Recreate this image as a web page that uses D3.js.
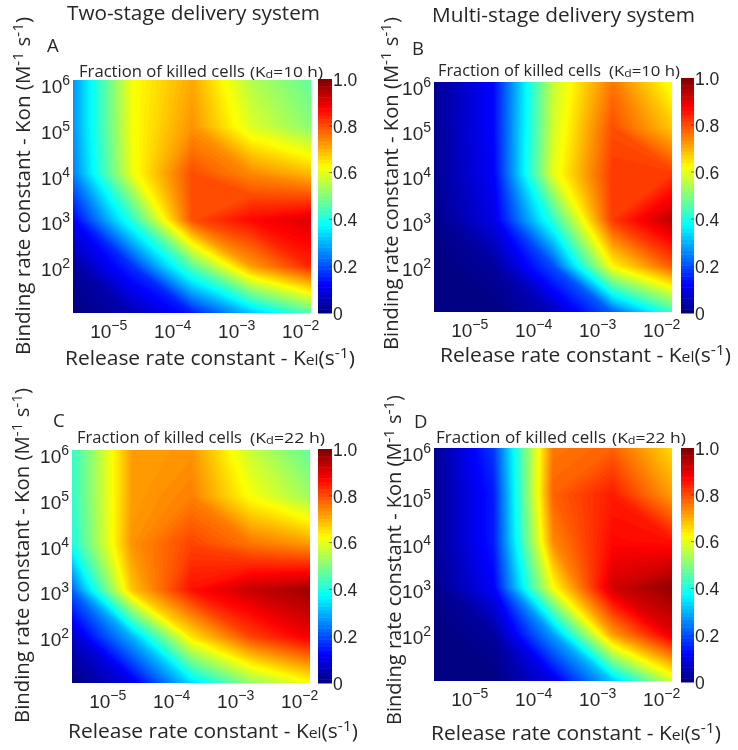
<!DOCTYPE html>
<html><head><meta charset="utf-8">
<script src="https://cdn.jsdelivr.net/npm/d3@7"></script>
<style>
html,body{margin:0;padding:0;background:#fff}
svg{display:block;font-family:"Open Sans",sans-serif;filter:blur(0.45px)}
text{fill:#262626}
</style></head><body>
<svg id="c" width="738" height="750"></svg>
<script>
// Grid of the simulated parameter space (log10 of the rate constants)
const kelExp = [-5.55, -4.62, -3.69, -2.76, -1.83];
const konExp = [6.15, 5.13, 4.11, 3.09, 2.07, 1.05];
const kelTicks = [1e-5, 1e-4, 1e-3, 1e-2];
const konTicks = [1e2, 1e3, 1e4, 1e5, 1e6];
const barTicks = [0, 0.2, 0.4, 0.6, 0.8, 1];

// Fraction of killed cells: rows follow konExp, columns follow kelExp
const killedA = [
  [.27,.62,.71,.55,.47],
  [.27,.62,.73,.59,.51],
  [.25,.61,.80,.74,.69],
  [.12,.42,.80,.87,.91],
  [.03,.17,.46,.72,.84],
  [.00,.05,.15,.32,.46]];
const killedB = [
  [.02,.13,.57,.76,.61],
  [.02,.13,.58,.80,.68],
  [.02,.12,.60,.82,.82],
  [.01,.10,.42,.82,.94],
  [.00,.03,.20,.63,.79],
  [.00,.00,.06,.22,.43]];
const killedC = [
  [.42,.72,.73,.57,.47],
  [.42,.72,.75,.62,.53],
  [.40,.73,.81,.76,.72],
  [.22,.68,.86,.93,.97],
  [.07,.30,.65,.81,.89],
  [.00,.10,.34,.52,.62]];
const killedD = [
  [.02,.18,.76,.78,.66],
  [.02,.15,.78,.85,.72],
  [.02,.15,.74,.87,.86],
  [.01,.12,.62,.92,.98],
  [.00,.03,.28,.72,.90],
  [.00,.00,.10,.32,.58]];

const jet = v => {
  const c = t => Math.round(255 * Math.max(0, Math.min(1, 1.5 - Math.abs(4 * v - t))));
  return `rgb(${c(3)},${c(2)},${c(1)})`;
};

const panels = [
 {letter:"A", data:killedA, kd:"10", l:73, r:311, t:80, b:313, cbL:318, cbR:332, cbT:79, cbB:313, lx:47, ly:52,
  ttl:[79,77,166], par:[250,77,73], xl:[65,365,290], yl:[23,355,338]},
 {letter:"B", data:killedB, kd:"10", l:434, r:672, t:82, b:312, cbL:681, cbR:694, cbT:78, cbB:313, lx:412, ly:55,
  ttl:[438,76,163], par:[609,76,71], xl:[440,362,291], yl:[391,350,333]},
 {letter:"C", data:killedC, kd:"22", l:72, r:310, t:450, b:683, cbL:318, cbR:332, cbT:449, cbB:683, lx:53, ly:427,
  ttl:[77,443,165], par:[250,443,75], xl:[68,738,290], yl:[22,723,335]},
 {letter:"D", data:killedD, kd:"22", l:434, r:672, t:448, b:681, cbL:681, cbR:694, cbT:448, cbB:682, lx:414, ly:428,
  ttl:[436,443,170], par:[612,443,74], xl:[431,740,290], yl:[394,725,330]}
];
const heads = [["Two-stage delivery system",67,20,253],["Multi-stage delivery system",432,22,263]];

const svg = d3.select("#c");
const SZ = 19;
heads.forEach(h => svg.append("text").attr("x",h[1]).attr("y",h[2]).attr("font-size",20)
  .attr("textLength",h[3]).attr("lengthAdjust","spacingAndGlyphs").text(h[0]));

const nLevels = 128;
const levels = d3.range(0, nLevels).map(i => i / nLevels);

function sup(sel, s, size, rise){
  sel.append("tspan").attr("dy",-rise).attr("font-size",size).text(s);
  return sel;
}

panels.forEach((p,pi) => {
  const g = svg.append("g");
  const x = d3.scaleLog().domain([10**kelExp[0],10**kelExp[4]]).range([p.l,p.r]);
  const y = d3.scaleLog().domain([10**konExp[5],10**konExp[0]]).range([p.b,p.t]);
  const nx = kelExp.length, ny = konExp.length;
  const flat = p.data.flat();
  const clampI = (v,n)=>Math.max(0,Math.min(n-1,v-0.5));
  const lerp = (a,i)=>{const k=Math.min(a.length-2,Math.floor(i));return a[k]+(a[k+1]-a[k])*(i-k);};
  const proj = d3.geoTransform({point(px,py){
    this.stream.point(x(10**lerp(kelExp,clampI(px,nx))), y(10**lerp(konExp,clampI(py,ny))));
  }});
  const path = d3.geoPath(proj);
  const clip = "clip"+pi;
  g.append("clipPath").attr("id",clip).append("rect")
    .attr("x",p.l).attr("y",p.t).attr("width",p.r-p.l).attr("height",p.b-p.t);
  const field = g.append("g").attr("clip-path",`url(#${clip})`);
  field.append("rect").attr("x",p.l).attr("y",p.t).attr("width",p.r-p.l).attr("height",p.b-p.t).attr("fill",jet(0));
  field.selectAll("path").data(d3.contours().size([nx,ny]).thresholds(levels)(flat)).join("path")
    .attr("d",path).attr("fill",d=>jet(d.value+0.5/nLevels));

  // x axis
  const ax = g.append("g").attr("transform",`translate(0,${p.b})`)
    .call(d3.axisBottom(x).tickValues(kelTicks).tickSize(0).tickPadding(0));
  ax.select(".domain").remove();
  ax.selectAll("text").each(function(d){
    const t=d3.select(this).text("").attr("y",25).attr("dy",0).attr("font-size",SZ).attr("font-family",null).attr("text-anchor","middle");
    t.append("tspan").text("10");
    sup(t,"\u2212"+Math.abs(Math.round(Math.log10(d))),14,8);
  });
  // y axis
  const ay = g.append("g").attr("transform",`translate(${p.l},0)`)
    .call(d3.axisLeft(y).tickValues(konTicks).tickSize(0).tickPadding(3));
  ay.select(".domain").remove();
  ay.selectAll("text").each(function(d){
    const t=d3.select(this).text("").attr("dy",6).attr("font-size",SZ).attr("font-family",null);
    t.append("tspan").text("10");
    sup(t,String(Math.round(Math.log10(d))),14,8);
  });
  // colour bar
  const cb = d3.scaleLinear().domain([0,1]).range([p.cbB,p.cbT]);
  const steps = d3.range(0,64).map(i=>i/64);
  g.append("g").selectAll("rect").data(steps).join("rect")
    .attr("x",p.cbL).attr("width",p.cbR-p.cbL)
    .attr("y",d=>cb(d+1/64)).attr("height",d=>cb(d)-cb(d+1/64)+0.5)
    .attr("fill",d=>jet(d+0.5/64));
  const ac = g.append("g").attr("transform",`translate(${p.cbR},0)`)
    .call(d3.axisRight(cb).tickValues(barTicks).tickSize(0).tickPadding(1).tickFormat(d=>d===0?"0":d3.format(".1f")(d)));
  ac.select(".domain").remove();
  ac.selectAll("text").attr("font-size",17.5).attr("font-family",null).attr("dy",".36em");
  g.append("g").selectAll("line").data(barTicks.slice(1,-1)).join("line")
    .attr("x1",p.cbR-3).attr("x2",p.cbR).attr("y1",d=>cb(d)).attr("y2",d=>cb(d)).attr("stroke","#333").attr("stroke-width",.6);

  // text
  g.append("text").attr("x",p.lx).attr("y",p.ly).attr("font-size",18.5).text(p.letter);
  g.append("text").attr("x",p.ttl[0]).attr("y",p.ttl[1]).attr("font-size",15.5)
    .attr("textLength",p.ttl[2]).attr("lengthAdjust","spacingAndGlyphs").text("Fraction of killed cells");
  const par=g.append("text").attr("x",p.par[0]).attr("y",p.par[1]).attr("font-size",14.5)
    .attr("textLength",p.par[2]).attr("lengthAdjust","spacingAndGlyphs");
  par.append("tspan").text("(K");
  par.append("tspan").attr("font-size",10.5).attr("dy",1).text("d");
  par.append("tspan").attr("dy",-1).text("="+p.kd+" h)");

  const xl=g.append("text").attr("x",p.xl[0]).attr("y",p.xl[1]).attr("font-size",20)
    .attr("textLength",p.xl[2]).attr("lengthAdjust","spacingAndGlyphs");
  xl.append("tspan").text("Release rate constant - K");
  xl.append("tspan").attr("font-size",15).text("el");
  xl.append("tspan").text("(s");
  xl.append("tspan").attr("dy",-7).attr("font-size",15).text("-1");
  xl.append("tspan").attr("dy",7).text(")");

  const yl=g.append("text").attr("transform",`translate(${p.yl[0]+7},${p.yl[1]}) rotate(-90)`).attr("font-size",20)
    .attr("textLength",p.yl[2]).attr("lengthAdjust","spacingAndGlyphs");
  yl.append("tspan").text("Binding rate constant - Kon (M");
  yl.append("tspan").attr("dy",-7).attr("font-size",15).text("-1");
  yl.append("tspan").attr("dy",7).text(" s");
  yl.append("tspan").attr("dy",-7).attr("font-size",15).text("-1");
  yl.append("tspan").attr("dy",7).text(")");
});
</script>
</body></html>
